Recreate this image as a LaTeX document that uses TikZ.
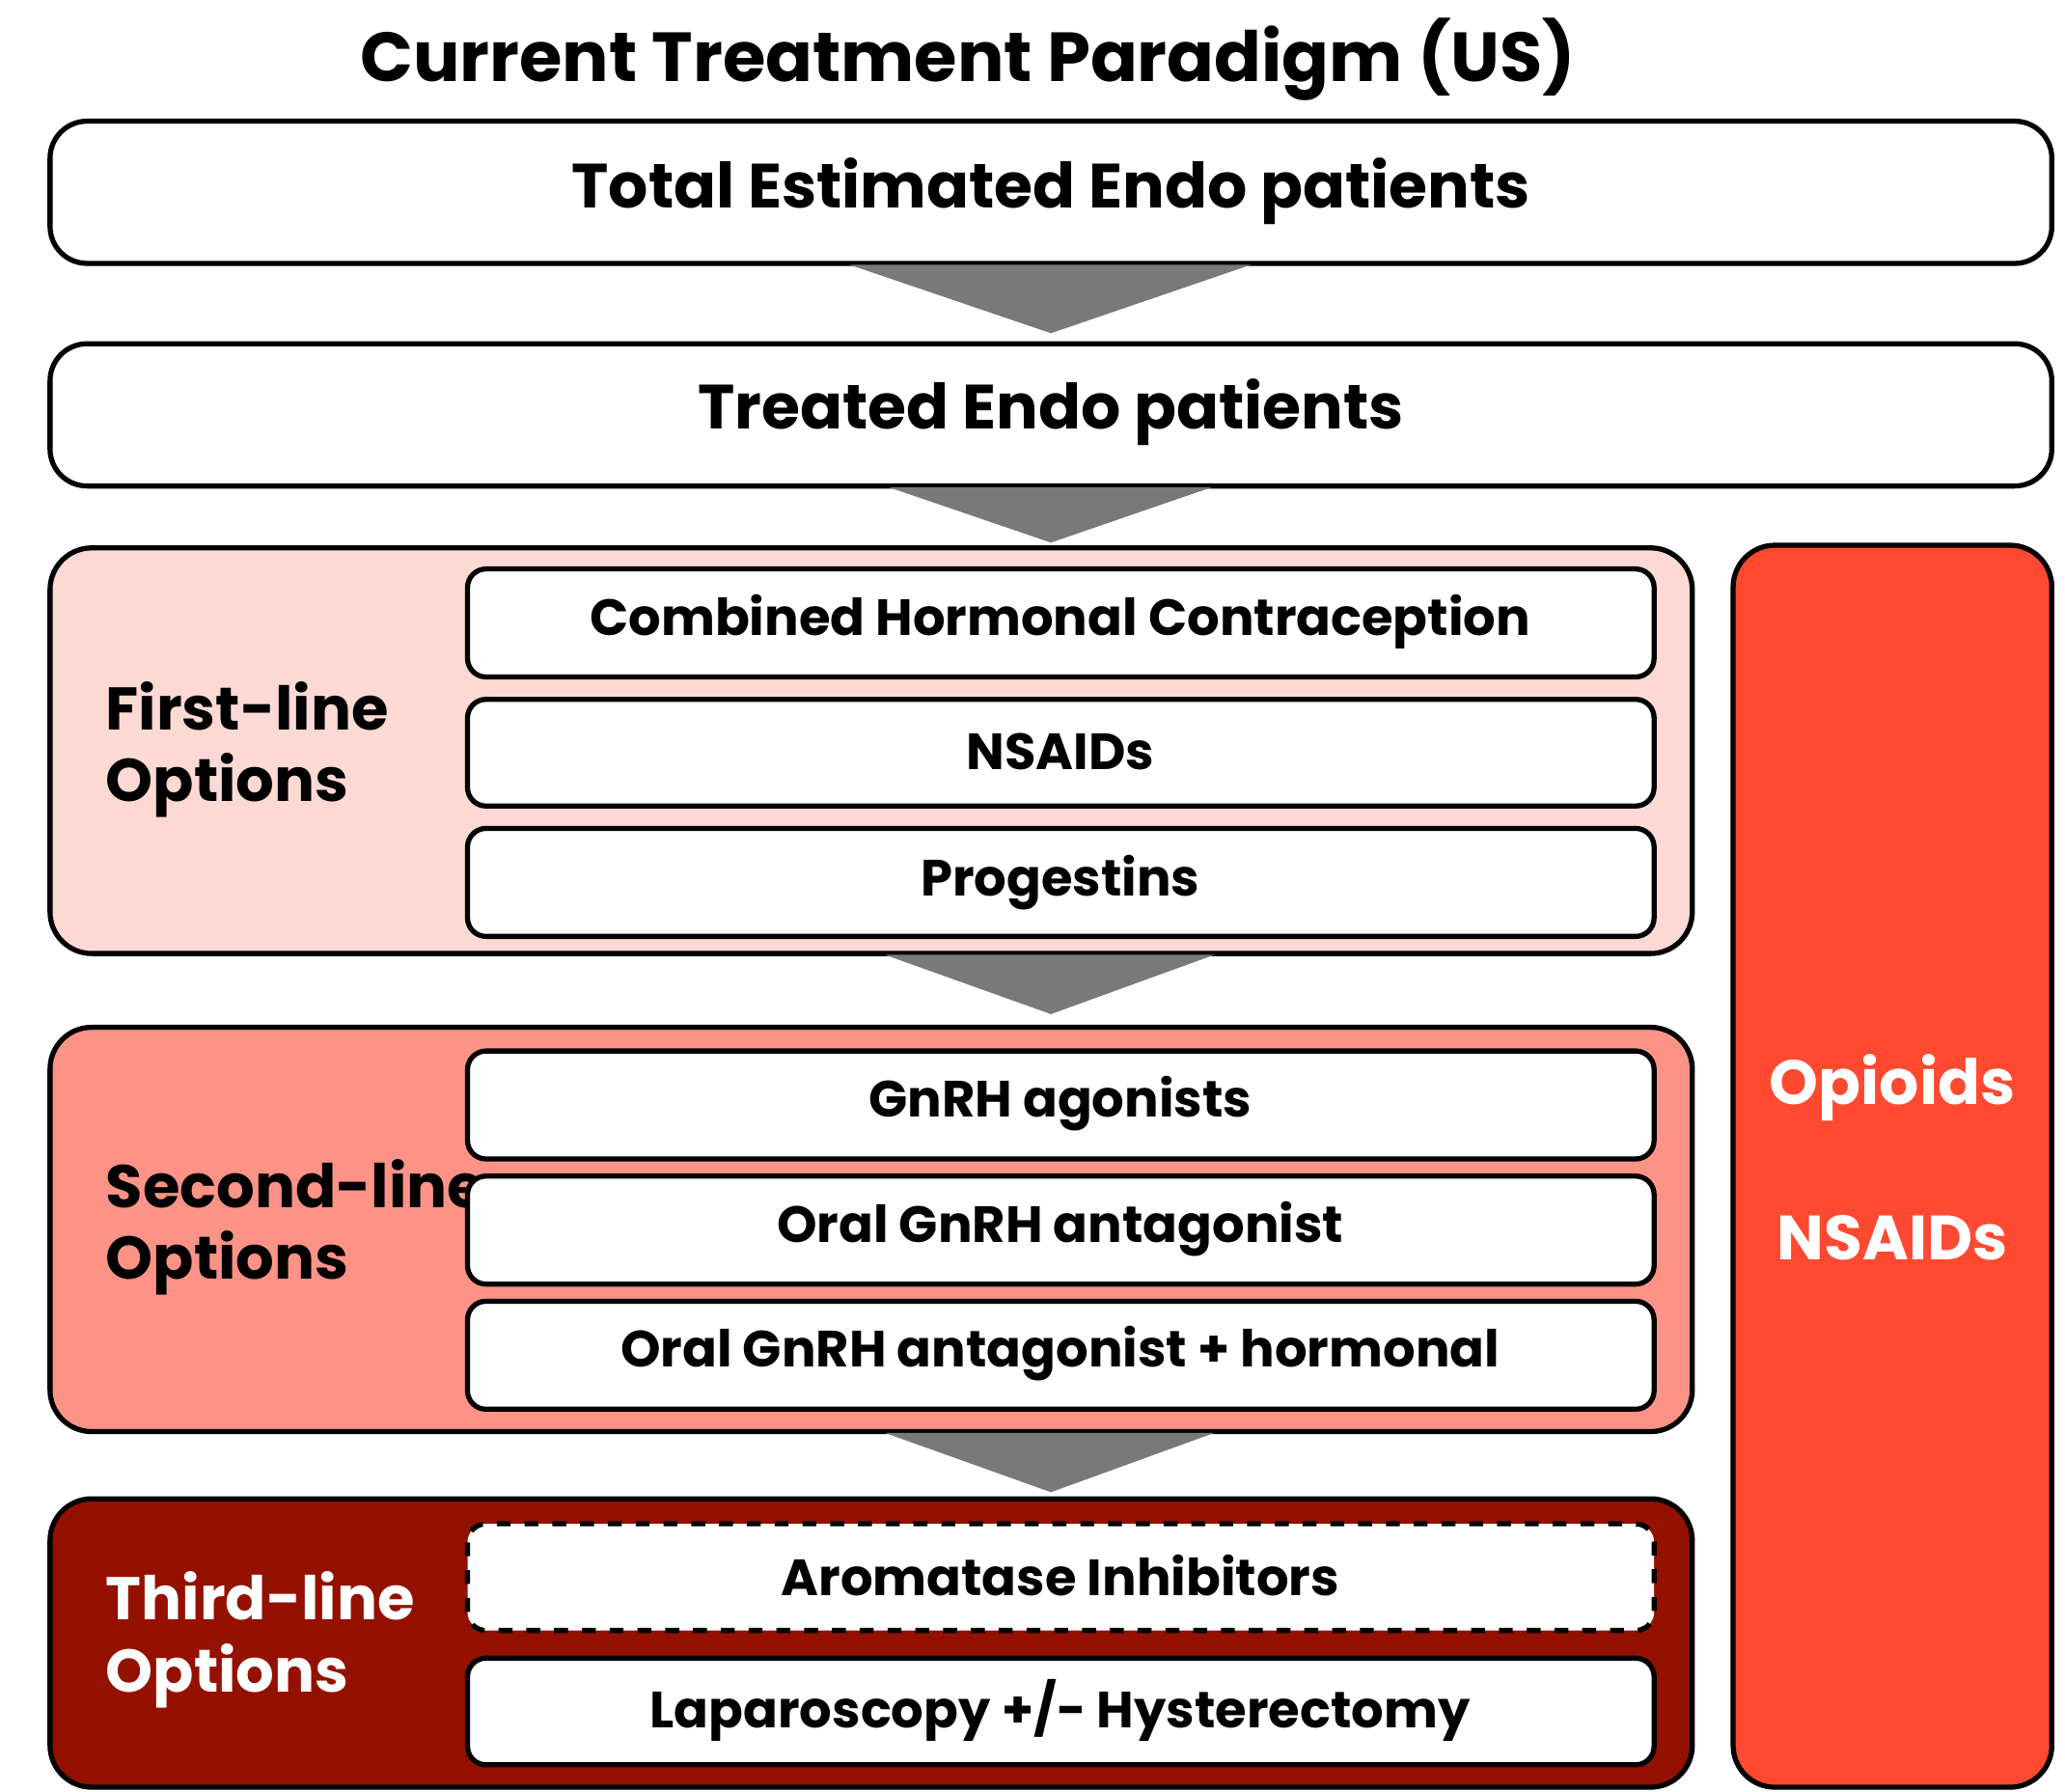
\documentclass[tikz,border=0pt]{standalone}
\usepackage{fontspec}
\setmainfont{Poppins}
\begin{document}
\begin{tikzpicture}[x=0.01cm,y=-0.01cm,
  box/.style={draw=black,line width=1.1pt,rounded corners=4pt,fill=white},
  panel/.style={draw=black,line width=1.1pt,rounded corners=9pt},
  arr/.style={fill=gray!95!black,draw=none},
  big/.style={font=\fontsize{13.5pt}{16pt}\selectfont\bfseries},
  med/.style={font=\fontsize{11pt}{13pt}\selectfont\bfseries},
  side/.style={font=\fontsize{13pt}{15.5pt}\selectfont\bfseries,align=left,anchor=west}]
\useasboundingbox (0,0) rectangle (1568,1360);
\node[font=\fontsize{15pt}{18pt}\selectfont\bfseries] (title) at (735,45) {Current Treatment Paradigm (US)};
\draw[box,rounded corners=8pt] (38,92) rectangle (1558,200);
\node[big] (total) at (798,145) {Total Estimated Endo patients};
\fill[arr] (645,201) -- (950,201) -- (798,253) -- cycle;
\draw[box,rounded corners=8pt] (38,261) rectangle (1558,369);
\node[big] (treated) at (798,313) {Treated Endo patients};
\fill[arr] (675,370) -- (920,370) -- (798,412) -- cycle;
% right panel
\draw[panel,fill={rgb,255:red,255;green,73;blue,48}] (1316,414) rectangle (1558,1357);
\node[big,text=white] (op) at (1437,826) {Opioids};
\node[big,text=white] (ns2) at (1437,940) {NSAIDs};
% first line
\draw[panel,fill={rgb,255:red,253;green,217;blue,212}] (38,416) rectangle (1285,724);
\node[side] (fl) at (68,569) {First-line\\Options};
\draw[box] (355,432) rectangle (1256,514); \node[med] (a1) at (805,472) {Combined Hormonal Contraception};
\draw[box] (355,531) rectangle (1256,612); \node[med] (a2) at (805,571) {NSAIDs};
\draw[box] (355,629) rectangle (1256,711); \node[med] (a3) at (805,670) {Progestins};
\fill[arr] (672,725) -- (922,725) -- (798,770) -- cycle;
% second line
\draw[panel,fill={rgb,255:red,252;green,147;blue,134}] (38,780) rectangle (1285,1087);
\node[side] (sl) at (68,932) {Second-line\\Options};
\draw[box] (355,798) rectangle (1256,880); \node[med] (b1) at (805,838) {GnRH agonists};
\draw[box] (355,893) rectangle (1256,975); \node[med] (b2) at (805,933) {Oral GnRH antagonist};
\draw[box] (355,988) rectangle (1256,1070); \node[med] (b3) at (805,1028) {Oral GnRH antagonist + hormonal};
\fill[arr] (672,1088) -- (922,1088) -- (798,1133) -- cycle;
% third line
\draw[panel,fill={rgb,255:red,148;green,17;blue,0}] (38,1138) rectangle (1285,1357);
\node[side,text=white] (tl) at (68,1245) {Third-line\\Options};
\draw[box,dashed] (355,1157) rectangle (1256,1238); \node[med] (c1) at (805,1196) {Aromatase Inhibitors};
\draw[box] (355,1259) rectangle (1256,1340); \node[med] (c2) at (805,1299) {Laparoscopy +/- Hysterectomy};
\end{tikzpicture}
\end{document}
